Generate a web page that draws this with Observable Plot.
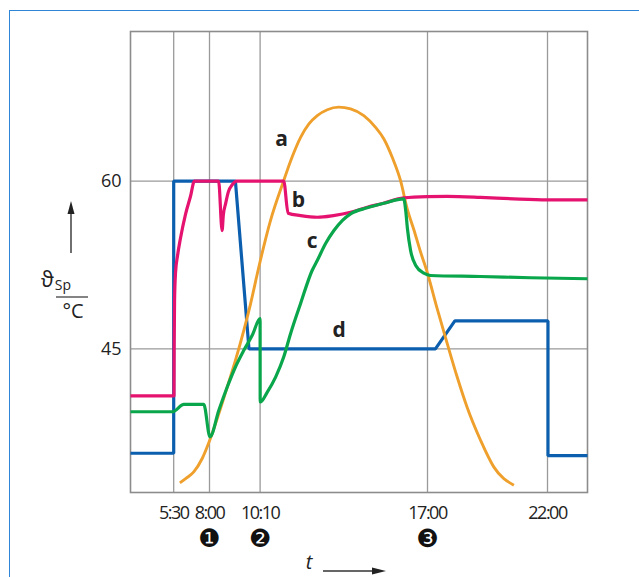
<!DOCTYPE html>
<html><head><meta charset="utf-8">
<script src="https://cdn.jsdelivr.net/npm/d3@7"></script>
<script src="https://cdn.jsdelivr.net/npm/@observablehq/plot@0.6"></script>
<style>
body{margin:0;background:#fff;}
#wrap{position:relative;width:639px;height:577px;overflow:hidden;}
#border{position:absolute;left:9px;top:10px;width:700px;height:700px;border-left:1.5px solid #2f86d6;border-top:1.5px solid #2f86d6;}
#chart{position:absolute;left:0;top:0;}
</style></head><body>
<div id="wrap"><div id="border"></div><div id="chart"></div></div>
<script>
// time ticks (hours) and their labels
const tickHours = [5.5, 8, 10.1667, 17, 22];
const tickLabels = ["5:30", "8:00", "10:10", "17:00", "22:00"];
const yTicks = [45, 60];
const markerHours = [8, 10.1667, 17];
const markerLabels = ["\u2776", "\u2777", "\u2778"];

// a: [hour, °C]
const curveA = [[5.93,33.02],[6.38,33.44],[6.90,34.0],[7.49,35.20],[8.01,36.83],[8.40,39.21],[8.76,41.59],[9.11,43.97],[9.47,46.65],[9.76,49.04],[10.11,52.30],[10.59,56.47],[11.13,60.04],[11.47,62.13],[11.82,63.91],[12.16,65.11],[12.50,65.85],[12.91,66.38],[13.38,66.61],[13.86,66.45],[14.40,65.85],[14.88,64.80],[15.22,63.77],[15.56,62.13],[15.90,60.04],[16.17,57.54],[16.44,55.67],[16.71,53.71],[16.99,51.83],[17.40,48.62],[17.82,45.49],[18.24,42.46],[18.65,39.78],[19.21,36.83],[19.76,34.45],[20.60,32.81]];
// b
const curveB = [[2.5,40.8],[5.52,40.8],[5.53,45],[5.56,49.33],[5.63,51.83],[5.77,53.35],[5.97,54.87],[6.32,57.01],[6.67,58.62],[6.95,60],[8.39,60],[8.54,55.58],[8.59,56.92],[8.69,57.99],[8.81,59.06],[8.98,59.69],[9.16,60],[11.13,60],[11.31,57.13],[11.82,56.92],[12.50,56.77],[13.16,56.92],[13.86,57.21],[14.54,57.66],[15.20,58.02],[16.02,58.50],[16.99,58.62],[17.82,58.64],[19.21,58.55],[20.58,58.41],[21.99,58.32],[23.667,58.32]];
// c
const curveC = [[2.5,39.38],[5.42,39.38],[6.21,40.04],[7.60,40.04],[8.02,37.13],[8.40,39.51],[8.76,41.59],[9.11,43.38],[9.47,44.87],[9.83,46.21],[10.1667,47.70],[10.17,40.25],[10.46,41.14],[10.80,42.48],[11.13,44.27],[11.41,46.36],[11.82,49.06],[12.29,52.01],[12.50,52.90],[12.84,54.42],[13.18,55.58],[13.52,56.47],[13.86,57.07],[14.54,57.61],[15.22,58.02],[16.03,58.41],[16.11,57.37],[16.18,55.76],[16.31,53.79],[16.52,52.46],[16.85,51.77],[17.13,51.56],[19.21,51.47],[21.29,51.36],[23.667,51.27]];
// d
const curveD = [[2.5,35.67],[5.5,35.67],[5.5,60],[9.11,60],[9.69,45],[17.33,45],[18.14,47.5],[22.02,47.5],[22.02,35.45],[23.667,35.45]];

// curve name labels
const labelNames = ["a", "b", "c", "d"];
const labelHours = [11.04, 11.73, 12.29, 13.39];
const labelValues = [63.75, 58.26, 54.6, 46.65];

const font = "'Open Sans', 'DejaVu Sans', sans-serif";
const lineOpts = (color) => ({x: d => d[0], y: d => d[1], stroke: color, strokeWidth: 3.2, strokeLinejoin: "round", strokeLinecap: "butt", curve: "monotone-x"});

const svg = Plot.plot({
  width: 639, height: 577,
  marginLeft: 130, marginRight: 52, marginTop: 31, marginBottom: 85,
  x: {type: "linear", domain: [2.5, 5.5, 8, 10.1667, 17, 22, 23.667], range: [130, 173.2, 209, 259.6, 427, 547, 587], axis: null},
  y: {domain: [32.16, 73.375], axis: null},
  style: {fontFamily: font, background: "transparent", overflow: "visible"},
  marks: [
    Plot.ruleX(tickHours, {stroke: "#9a9a9a", strokeWidth: 1.3}),
    Plot.ruleY(yTicks, {stroke: "#9a9a9a", strokeWidth: 1.3}),
    Plot.frame({stroke: "#8c8c8c", strokeWidth: 1.6}),
    Plot.line(curveD, {...lineOpts("#0b5fae"), curve: "linear", strokeLinejoin: "miter"}),
    Plot.line(curveA, {...lineOpts("#efa02c"), strokeWidth: 2.9}),
    Plot.line(curveB, lineOpts("#e5126f")),
    Plot.line(curveC, lineOpts("#0aa64b")),
    Plot.text(labelNames, {x: (d, i) => labelHours[i], y: (d, i) => labelValues[i], text: d => d, fontSize: 21, fontWeight: "bold", fill: "#222"}),
    Plot.text(yTicks, {y: d => d, text: d => String(d), frameAnchor: "left", textAnchor: "end", dx: -9, fontSize: 18, fill: "#222"}),
    Plot.text(tickHours, {x: d => d, text: (d, i) => tickLabels[i], frameAnchor: "bottom", dy: 26, fontSize: 18, fill: "#222"}),
    Plot.text(markerHours, {x: d => d, text: (d, i) => markerLabels[i], frameAnchor: "bottom", dy: 54, fontSize: 25, fill: "#111", fontFamily: "'DejaVu Sans', sans-serif", lineHeight: 0.8}),
    Plot.text(["t"], {frameAnchor: "bottom", dx: -50, dy: 76, fontSize: 20, fontStyle: "italic", fill: "#222", text: d => d})
  ]
});
document.getElementById("chart").appendChild(svg);

const s = d3.select(svg);
// condense the time labels a little, like the reference's narrow face
s.selectAll("text").filter(function() { return tickLabels.includes(this.textContent); })
  .style("letter-spacing", "-1.5px");

// decorations: axis arrows and y-axis quantity label
const g = s.append("g").attr("fill", "#222").attr("stroke", "none");
g.append("line").attr("x1", 323).attr("y1", 571).attr("x2", 374).attr("y2", 571).attr("stroke", "#333").attr("stroke-width", 1.4);
g.append("path").attr("d", "M372,567.5 L386,571 L372,574.5 Z");
g.append("line").attr("x1", 71).attr("y1", 253).attr("x2", 71).attr("y2", 212).attr("stroke", "#333").attr("stroke-width", 1.4);
g.append("path").attr("d", "M67.5,214 L71,201 L74.5,214 Z");
const yl = g.append("text").attr("x", 56).attr("y", 287).attr("font-family", font).attr("font-size", 21);
yl.append("tspan").text("\u03D1");
yl.append("tspan").attr("font-size", 14).attr("dy", 3).attr("dx", 1).text("Sp");
g.append("line").attr("x1", 56).attr("y1", 297).attr("x2", 88).attr("y2", 297).attr("stroke", "#333").attr("stroke-width", 1.2);
g.append("text").attr("x", 73).attr("y", 318).attr("text-anchor", "middle").attr("font-family", font).attr("font-size", 20).text("\u00B0C");
</script>
</body></html>
